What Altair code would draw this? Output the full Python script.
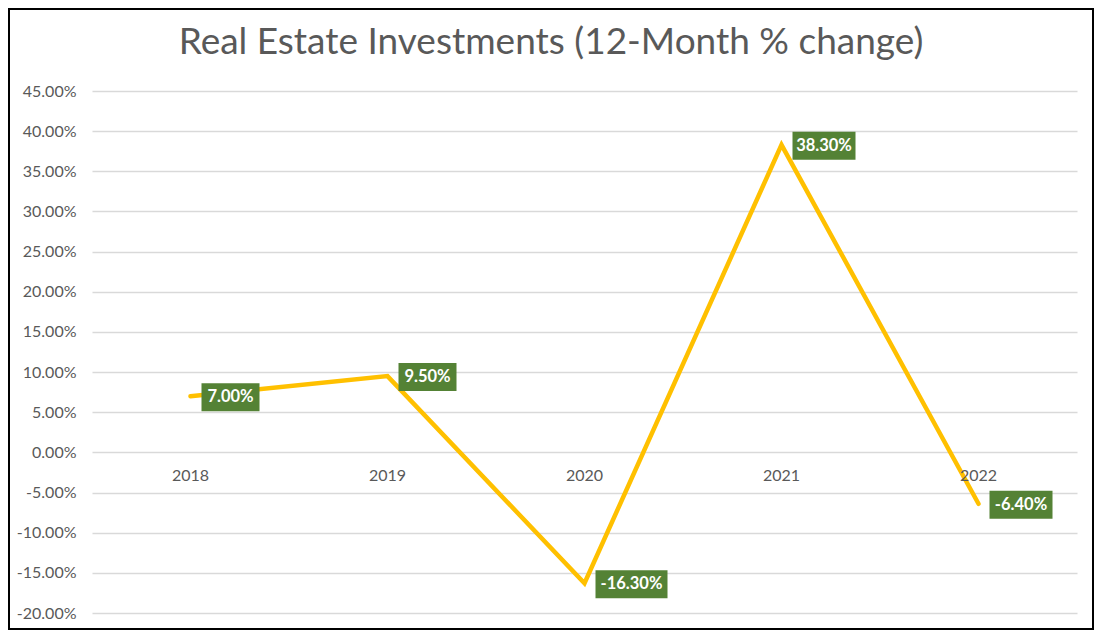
import altair as alt
import pandas as pd

title_text = "Real Estate Investments (12-Month % change)"
years = [2018, 2019, 2020, 2021, 2022]
changes = [0.070, 0.095, -0.163, 0.383, -0.064]
labels = ["7.00%", "9.50%", "-16.30%", "38.30%", "-6.40%"]
y_ticks = [-0.20, -0.15, -0.10, -0.05, 0.0, 0.05, 0.10, 0.15, 0.20, 0.25, 0.30, 0.35, 0.40, 0.45]

df = pd.DataFrame({"year": years, "change": changes, "label": labels})

FONT = "Lato"
GRAY = "#595959"
W, H = 985, 522

x_enc = alt.X("year:Q", scale=alt.Scale(domain=[2017.5, 2022.5], nice=False, zero=False), axis=None)
y_enc = alt.Y(
    "change:Q",
    scale=alt.Scale(domain=[-0.20, 0.45], nice=False, zero=False),
    axis=alt.Axis(
        values=y_ticks, format=".2%", grid=True, gridColor="#D9D9D9", gridWidth=1.5,
        domain=False, ticks=False, labelPadding=16, labelColor=GRAY, labelFont=FONT,
        labelFontSize=16, title=None,
        labelExpr="replace(datum.label, '\u2212', '-')",
    ),
)

base = alt.Chart(df)

frame = base.mark_rect(fill="transparent", stroke="black", strokeWidth=2).encode(
    x=alt.value(-83), x2=alt.value(1001), y=alt.value(-82), y2=alt.value(538)
)

title = alt.Chart(pd.DataFrame({"t": [title_text]})).mark_text(
    font=FONT, fontSize=37, color=GRAY, align="center", baseline="alphabetic"
).encode(x=alt.value(459), y=alt.value(-37), text="t:N")

line = base.mark_line(color="#FFC000", strokeWidth=4.5, strokeCap="round").encode(x=x_enc, y=y_enc)

xlabels = base.mark_text(color=GRAY, font=FONT, fontSize=16, baseline="middle", dy=24).encode(
    x="year:Q", y=alt.datum(0), text=alt.Text("year:Q", format="d")
)

layers = [frame, title, line, xlabels]
for n, w in [(5, 58), (6, 63), (7, 72)]:
    sub = base.transform_filter(f"length(datum.label) == {n}")
    box = sub.mark_rect(color="#548235", xOffset=11, x2Offset=11 + w, yOffset=-13, y2Offset=15).encode(
        x="year:Q", x2="year", y="change:Q", y2="change"
    )
    txt = sub.mark_text(color="white", font=FONT, fontSize=16.5, fontWeight="bold",
                        align="center", baseline="middle", dx=11 + w / 2, dy=1).encode(
        x="year:Q", y="change:Q", text="label:N"
    )
    layers += [box, txt]

chart = alt.layer(*layers).properties(
    width=W, height=H,
    padding=0,
).configure_view(stroke=None)

chart.save("out.html", embed_options={"renderer": "svg", "actions": False})
